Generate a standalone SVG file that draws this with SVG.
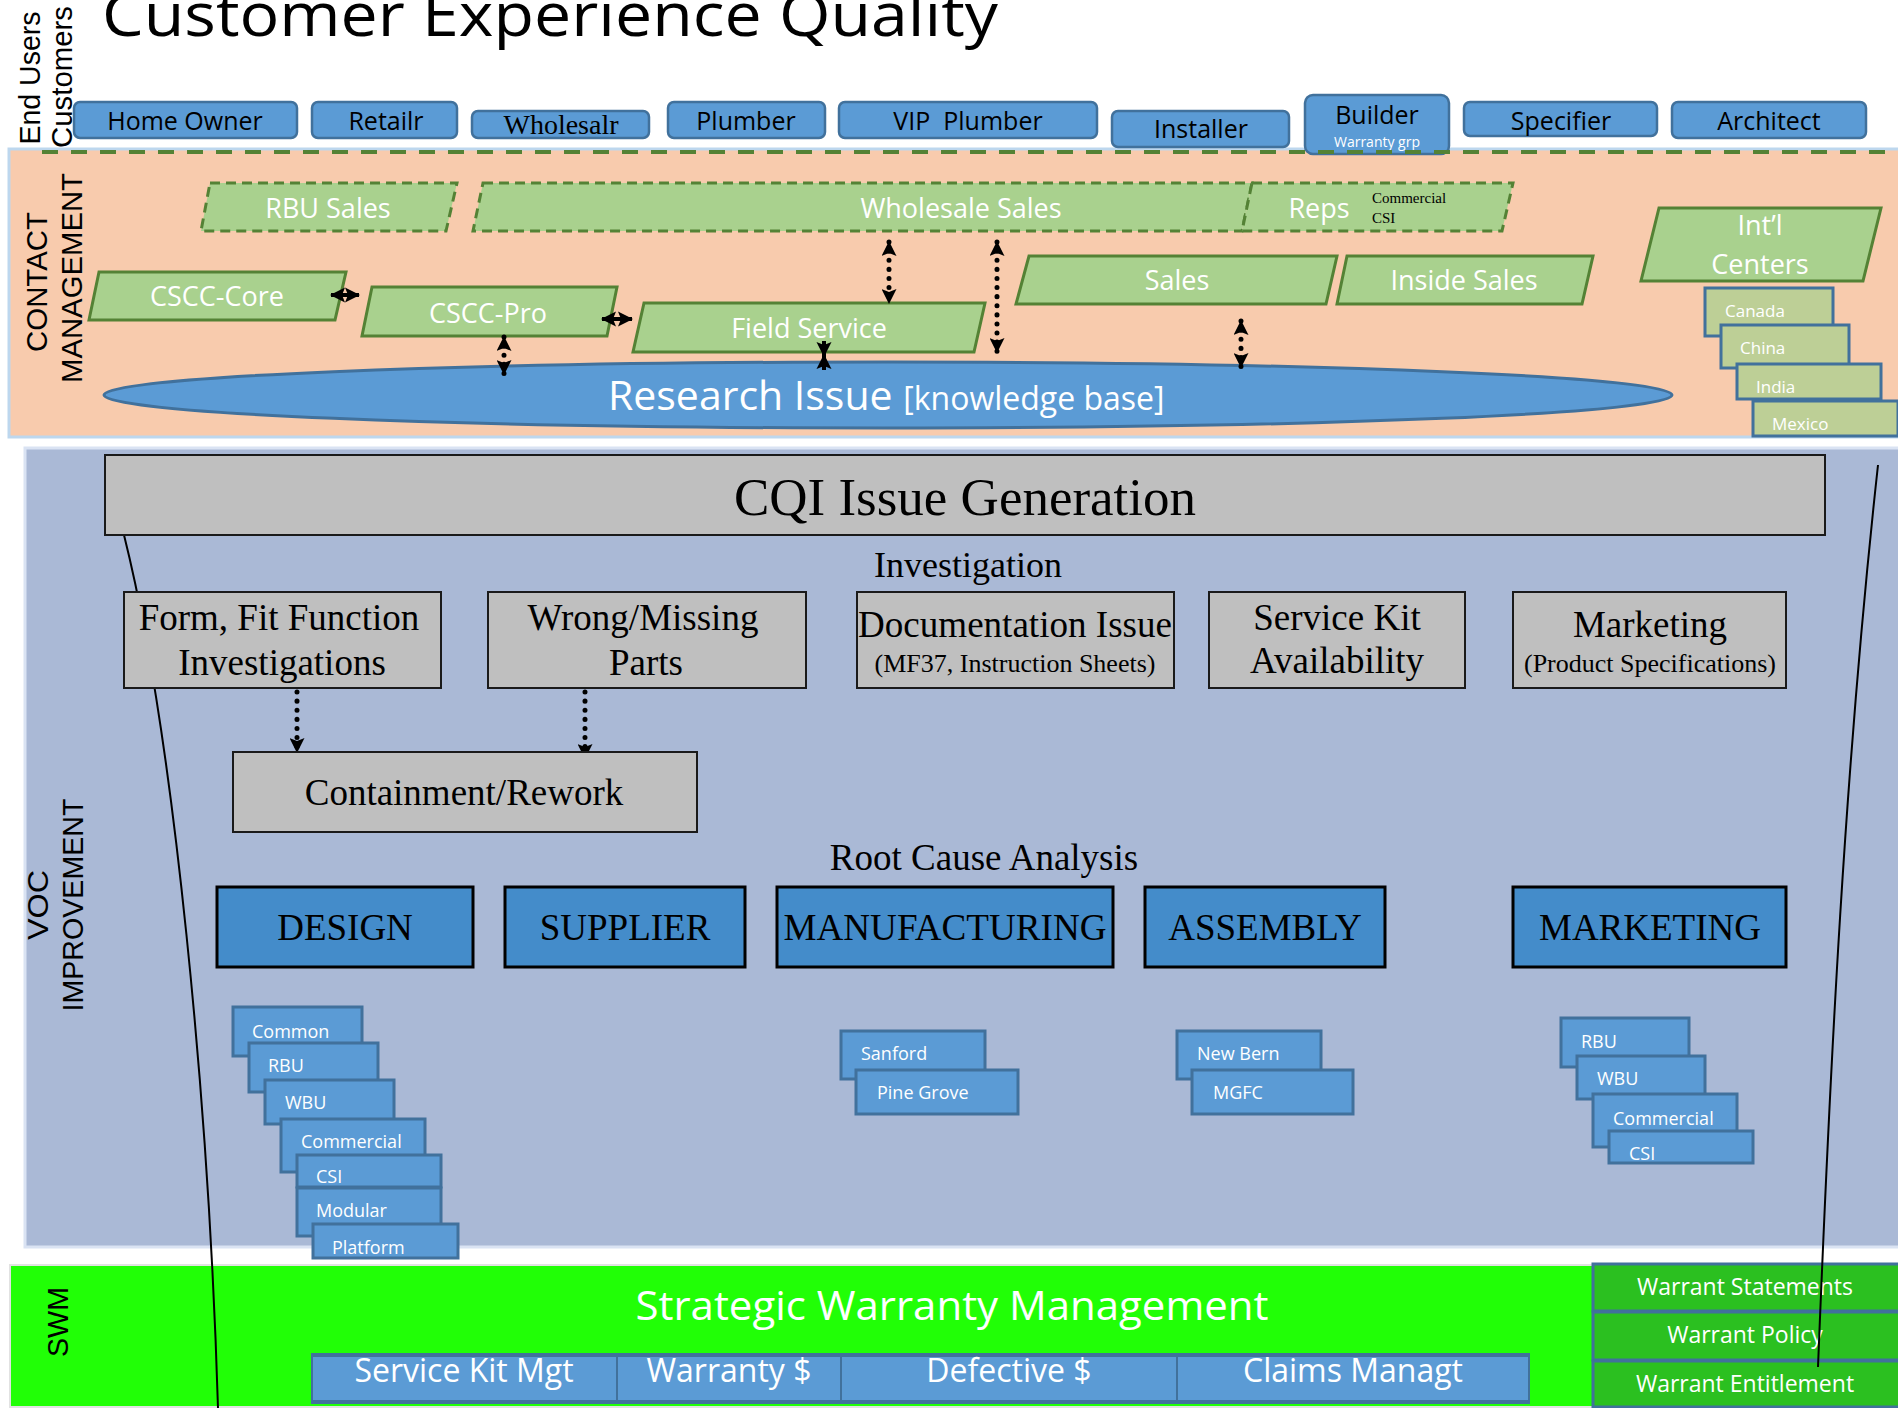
<svg xmlns="http://www.w3.org/2000/svg" width="1898" height="1408" viewBox="0 0 1898 1408">
<defs>
<style>
.sans{font-family:"Open Sans","Liberation Sans",sans-serif}
.serif{font-family:"Liberation Serif","Times New Roman",serif}
.arial{font-family:"Liberation Sans",Arial,sans-serif;font-size:30px;fill:#000}
.cust{fill:#5B9BD5;stroke:#41719C;stroke-width:2.5}
.ct{font-size:25px;fill:#000;text-anchor:middle}
.par{fill:#A9D18E;stroke:#548235;stroke-width:3}
.dpar{fill:#A9D18E;stroke:#548235;stroke-width:3;stroke-dasharray:10 6}
.pt{font-size:27px;fill:#fff;text-anchor:middle}
.ctry{fill:#BDCF96;stroke:#41719C;stroke-width:3}
.cyt{font-size:17px;fill:#fff}
.gray{fill:#BFBFBF;stroke:#1a1a1a;stroke-width:2}
.gt{font-size:37px;fill:#000;text-anchor:middle}
.gs{font-size:26px;fill:#000;text-anchor:middle}
.rc{fill:#448CCA;stroke:#000;stroke-width:3}
.rct{font-size:37px;fill:#000;text-anchor:middle}
.sub{fill:#5B9BD5;stroke:#41719C;stroke-width:3}
.st{font-size:18px;fill:#fff}
.war{fill:#2BC020;stroke:#41719C;stroke-width:3}
.wt{font-size:23px;fill:#fff;text-anchor:middle}
.bar{fill:#5B9BD5;stroke:#41719C;stroke-width:2}
.bt{font-size:32px;fill:#fff;text-anchor:middle}
.conn{fill:none;stroke:#000;stroke-width:4}
.dot{fill:none;stroke:#000;stroke-width:5;stroke-linecap:round;stroke-dasharray:0.1 9}
.curve{fill:none;stroke:#000;stroke-width:2}
</style>
<marker id="ah" viewBox="0 0 15 15" refX="14" refY="7.5" markerWidth="15" markerHeight="15" markerUnits="userSpaceOnUse" orient="auto-start-reverse">
<path d="M0,0 L15,7.5 L0,15 L3,7.5 z" fill="#000"/>
</marker>
<marker id="ahs" viewBox="0 0 15 15" refX="14" refY="7.5" markerWidth="15" markerHeight="17" markerUnits="userSpaceOnUse" orient="auto-start-reverse">
<path d="M0,0 L15,7.5 L0,15 L3,7.5 z" fill="#000"/>
</marker>
</defs>

<rect x="0" y="0" width="1898" height="1408" fill="#fff"/>

<!-- Title -->
<text id="title" class="sans" x="102" y="36" font-size="60" fill="#000" textLength="896" lengthAdjust="spacingAndGlyphs">Customer Experience Quality</text>

<!-- Side labels -->
<g id="label-end-users">
<text class="arial" transform="translate(40,78) rotate(-90)" text-anchor="middle" textLength="133" lengthAdjust="spacingAndGlyphs">End Users</text>
<text class="arial" transform="translate(72,77) rotate(-90)" text-anchor="middle" textLength="142" lengthAdjust="spacingAndGlyphs">Customers</text>
</g>

<!-- Contact management area -->
<g id="area-contact">
<rect x="9" y="149" width="1895" height="288" fill="#F8CBAD" stroke="#BDD7EE" stroke-width="3"/>
</g>

<!-- VOC area -->
<g id="area-voc">
<rect x="25" y="448" width="1880" height="799" fill="#AAB9D6" stroke="#DAE3F3" stroke-width="3"/>
</g>

<!-- SWM area -->
<g id="area-swm">
<rect x="10" y="1265" width="1590" height="142" fill="#21FF06" stroke="#E2E2E2" stroke-width="2"/>
</g>

<!-- Customers -->
<g id="cust-home-owner"><rect class="cust" x="74" y="102" width="223" height="36" rx="6"/><text class="sans ct" x="185" y="130">Home Owner</text></g>
<g id="cust-retailr"><rect class="cust" x="312" y="102" width="145" height="36" rx="6"/><text class="sans ct" x="386" y="130">Retailr</text></g>
<g id="cust-wholesalr"><rect class="cust" x="472" y="111" width="177" height="27" rx="6"/><text class="serif" x="561" y="134" font-size="28" text-anchor="middle" fill="#000">Wholesalr</text></g>
<g id="cust-plumber"><rect class="cust" x="668" y="102" width="157" height="36" rx="6"/><text class="sans ct" x="746" y="130">Plumber</text></g>
<g id="cust-vip-plumber"><rect class="cust" x="839" y="102" width="258" height="36" rx="6"/><text class="sans ct" x="968" y="130" xml:space="preserve">VIP  Plumber</text></g>
<g id="cust-installer"><rect class="cust" x="1112" y="111" width="177" height="36" rx="6"/><text class="sans ct" x="1201" y="138">Installer</text></g>
<g id="cust-builder"><rect class="cust" x="1305" y="95" width="144" height="59" rx="8"/><text class="sans ct" x="1377" y="124">Builder</text><text class="sans" x="1377" y="147" font-size="14" fill="#fff" text-anchor="middle">Warranty grp</text></g>
<g id="cust-specifier"><rect class="cust" x="1464" y="102" width="193" height="34" rx="6"/><text class="sans ct" x="1561" y="130">Specifier</text></g>
<g id="cust-architect"><rect class="cust" x="1672" y="102" width="194" height="36" rx="6"/><text class="sans ct" x="1769" y="130">Architect</text></g>

<line id="boundary-dash" x1="42" y1="152" x2="1898" y2="152" stroke="#548235" stroke-width="4" stroke-dasharray="16 13"/>

<g id="label-contact">
<text class="arial" transform="translate(47,282) rotate(-90)" text-anchor="middle" textLength="140" lengthAdjust="spacingAndGlyphs">CONTACT</text>
<text class="arial" transform="translate(82,278) rotate(-90)" text-anchor="middle" textLength="210" lengthAdjust="spacingAndGlyphs">MANAGEMENT</text>
</g>

<!-- Contact management nodes -->
<g id="rbu-sales"><polygon class="dpar" points="210,183 457,183 446,231 201,231"/><text class="sans pt" x="328" y="218">RBU Sales</text></g>
<g id="wholesale-sales"><polygon class="dpar" points="483,183 1252,183 1242,231 473,231"/><text class="sans pt" x="961" y="218">Wholesale Sales</text></g>
<g id="reps"><polygon class="dpar" points="1252,183 1513,183 1502,231 1242,231"/><text class="sans pt" x="1319" y="218">Reps</text>
<text class="serif" x="1372" y="203" font-size="15" fill="#000">Commercial</text><text class="serif" x="1372" y="223" font-size="15" fill="#000">CSI</text></g>
<g id="cscc-core"><polygon class="par" points="99,272 346,272 335,320 89,320"/><text class="sans pt" x="217" y="306">CSCC-Core</text></g>
<g id="cscc-pro"><polygon class="par" points="372,287 617,287 607,336 362,336"/><text class="sans pt" x="488" y="323">CSCC-Pro</text></g>
<g id="field-service"><polygon class="par" points="644,303 985,303 974,352 633,352"/><text class="sans pt" x="809" y="338">Field Service</text></g>
<g id="sales"><polygon class="par" points="1029,256 1337,256 1326,304 1016,304"/><text class="sans pt" x="1177" y="290">Sales</text></g>
<g id="inside-sales"><polygon class="par" points="1347,256 1593,256 1582,304 1337,304"/><text class="sans pt" x="1464" y="290">Inside Sales</text></g>
<g id="intl-centers"><polygon class="par" points="1659,208 1881,208 1863,281 1641,281"/><text class="sans pt" x="1760" y="235">Int’l</text><text class="sans pt" x="1760" y="274">Centers</text></g>
<g id="ctry-canada"><rect class="ctry" x="1705" y="288" width="128" height="48"/><text class="sans cyt" x="1725" y="317">Canada</text></g>
<g id="ctry-china"><rect class="ctry" x="1721" y="325" width="128" height="43"/><text class="sans cyt" x="1740" y="354">China</text></g>
<g id="ctry-india"><rect class="ctry" x="1737" y="364" width="144" height="35"/><text class="sans cyt" x="1756" y="393">India</text></g>
<g id="ctry-mexico"><rect class="ctry" x="1753" y="401" width="145" height="35"/><text class="sans cyt" x="1772" y="430">Mexico</text></g>
<g id="research-issue"><ellipse cx="888" cy="395" rx="784" ry="33" fill="#5B9BD5" stroke="#41719C" stroke-width="3"/>
<text class="sans" x="608" y="410" fill="#fff"><tspan font-size="41">Research Issue </tspan><tspan font-size="32">[knowledge base]</tspan></text></g>

<!-- SWM nodes -->
<g id="label-swm"><text class="arial" transform="translate(68,1322) rotate(-90)" text-anchor="middle" textLength="70" lengthAdjust="spacingAndGlyphs">SWM</text></g>
<text id="swm-title" class="sans" x="952" y="1320" font-size="40" fill="#fff" text-anchor="middle" textLength="633" lengthAdjust="spacingAndGlyphs">Strategic Warranty Management</text>
<g id="swm-bar">
<rect class="bar" x="312" y="1354" width="305" height="49"/>
<rect class="bar" x="617" y="1354" width="224" height="49"/>
<rect class="bar" x="841" y="1354" width="336" height="49"/>
<rect class="bar" x="1177" y="1354" width="352" height="49"/>
<line x1="312" y1="1355" x2="1529" y2="1355" stroke="#41719C" stroke-width="4"/>
<line x1="312" y1="1402" x2="1529" y2="1402" stroke="#41719C" stroke-width="4"/>
<text class="sans bt" x="464" y="1382">Service Kit Mgt</text>
<text class="sans bt" x="729" y="1382">Warranty $</text>
<text class="sans bt" x="1009" y="1382">Defective $</text>
<text class="sans bt" x="1353" y="1382">Claims Managt</text>
</g>
<g id="warrant-statements"><rect class="war" x="1593" y="1264" width="310" height="47"/><text class="sans wt" x="1745" y="1295">Warrant Statements</text></g>
<g id="warrant-policy"><rect class="war" x="1593" y="1312" width="310" height="48"/><text class="sans wt" x="1745" y="1343">Warrant Policy</text></g>
<g id="warrant-entitlement"><rect class="war" x="1593" y="1361" width="310" height="46"/><text class="sans wt" x="1745" y="1392">Warrant Entitlement</text></g>

<!-- Connectors -->
<g id="connectors">
<path class="curve" d="M124,535 C174,735 209,1108 218,1408"/>
<path class="curve" d="M1878,465 C1845,765 1830,1067 1818,1367"/>
<line class="conn" x1="331" y1="295" x2="359" y2="295" marker-start="url(#ahs)" marker-end="url(#ahs)" stroke-width="2"/>
<line class="conn" x1="602" y1="319" x2="632" y2="319" marker-start="url(#ahs)" marker-end="url(#ahs)" stroke-width="2"/>
<line class="dot" x1="504" y1="337" x2="504" y2="374" marker-start="url(#ah)" marker-end="url(#ah)"/>
<line class="conn" x1="824" y1="341" x2="824" y2="356" marker-end="url(#ahs)" stroke-width="2"/>
<line class="conn" x1="824" y1="370" x2="824" y2="355" marker-end="url(#ahs)" stroke-width="2"/>
<line class="dot" x1="889" y1="242" x2="889" y2="303" marker-start="url(#ah)" marker-end="url(#ah)"/>
<line class="dot" x1="997" y1="242" x2="997" y2="352" marker-start="url(#ah)" marker-end="url(#ah)"/>
<line class="dot" x1="1241" y1="321" x2="1241" y2="367" marker-start="url(#ah)" marker-end="url(#ah)"/>
<line class="dot" x1="297" y1="692" x2="297" y2="752" marker-end="url(#ah)"/>
<line class="dot" x1="585" y1="692" x2="585" y2="758" marker-end="url(#ah)"/>
</g>

<!-- VOC nodes -->
<g id="label-voc">
<text class="arial" transform="translate(48,905) rotate(-90)" text-anchor="middle" textLength="70" lengthAdjust="spacingAndGlyphs">VOC</text>
<text class="arial" transform="translate(83,905) rotate(-90)" text-anchor="middle" textLength="213" lengthAdjust="spacingAndGlyphs">IMPROVEMENT</text>
</g>
<g id="cqi"><rect class="gray" x="105" y="455" width="1720" height="80"/><text class="serif" x="965" y="515" font-size="53" fill="#000" text-anchor="middle">CQI Issue Generation</text></g>
<text id="investigation" class="serif" x="968" y="577" font-size="36" fill="#000" text-anchor="middle">Investigation</text>
<g id="inv-form-fit"><rect class="gray" x="124" y="592" width="317" height="96"/><text class="serif gt" x="279" y="630">Form, Fit Function</text><text class="serif gt" x="282" y="675">Investigations</text></g>
<g id="inv-wrong-missing"><rect class="gray" x="488" y="592" width="318" height="96"/><text class="serif gt" x="643" y="630">Wrong/Missing</text><text class="serif gt" x="646" y="675">Parts</text></g>
<g id="inv-documentation"><rect class="gray" x="857" y="592" width="317" height="96"/><text class="serif gt" x="1015" y="637" textLength="314" lengthAdjust="spacingAndGlyphs">Documentation Issue</text><text class="serif gs" x="1015" y="672">(MF37, Instruction Sheets)</text></g>
<g id="inv-service-kit"><rect class="gray" x="1209" y="592" width="256" height="96"/><text class="serif gt" x="1337" y="630">Service Kit</text><text class="serif gt" x="1337" y="673">Availability</text></g>
<g id="inv-marketing"><rect class="gray" x="1513" y="592" width="273" height="96"/><text class="serif gt" x="1650" y="637">Marketing</text><text class="serif gs" x="1650" y="672">(Product Specifications)</text></g>
<g id="containment"><rect class="gray" x="233" y="752" width="464" height="80"/><text class="serif gt" x="464" y="805">Containment/Rework</text></g>
<text id="root-cause" class="serif" x="984" y="870" font-size="37" fill="#000" text-anchor="middle">Root Cause Analysis</text>
<g id="rc-design"><rect class="rc" x="217" y="887" width="256" height="80"/><text class="serif rct" x="345" y="940">DESIGN</text></g>
<g id="rc-supplier"><rect class="rc" x="505" y="887" width="240" height="80"/><text class="serif rct" x="625" y="940">SUPPLIER</text></g>
<g id="rc-manufacturing"><rect class="rc" x="777" y="887" width="336" height="80"/><text class="serif rct" x="945" y="940" textLength="323" lengthAdjust="spacingAndGlyphs">MANUFACTURING</text></g>
<g id="rc-assembly"><rect class="rc" x="1145" y="887" width="240" height="80"/><text class="serif rct" x="1265" y="940">ASSEMBLY</text></g>
<g id="rc-marketing"><rect class="rc" x="1513" y="887" width="273" height="80"/><text class="serif rct" x="1650" y="940">MARKETING</text></g>

<g id="design-subs">
<g id="d-common"><rect class="sub" x="233" y="1007" width="129" height="49"/><text class="sans st" x="252" y="1038">Common</text></g>
<g id="d-rbu"><rect class="sub" x="249" y="1043" width="129" height="49"/><text class="sans st" x="268" y="1072">RBU</text></g>
<g id="d-wbu"><rect class="sub" x="265" y="1080" width="129" height="44"/><text class="sans st" x="285" y="1109">WBU</text></g>
<g id="d-commercial"><rect class="sub" x="281" y="1119" width="144" height="53"/><text class="sans st" x="301" y="1148">Commercial</text></g>
<g id="d-csi"><rect class="sub" x="297" y="1155" width="144" height="32"/><text class="sans st" x="316" y="1183">CSI</text></g>
<g id="d-modular"><rect class="sub" x="297" y="1188" width="144" height="48"/><text class="sans st" x="316" y="1217">Modular</text></g>
<g id="d-platform"><rect class="sub" x="313" y="1224" width="145" height="34"/><text class="sans st" x="332" y="1254">Platform</text></g>
</g>
<g id="mfg-subs">
<g id="m-sanford"><rect class="sub" x="841" y="1031" width="144" height="48"/><text class="sans st" x="861" y="1060">Sanford</text></g>
<g id="m-pine-grove"><rect class="sub" x="856" y="1070" width="162" height="44"/><text class="sans st" x="877" y="1099">Pine Grove</text></g>
</g>
<g id="asm-subs">
<g id="a-new-bern"><rect class="sub" x="1177" y="1031" width="144" height="48"/><text class="sans st" x="1197" y="1060">New Bern</text></g>
<g id="a-mgfc"><rect class="sub" x="1192" y="1070" width="161" height="44"/><text class="sans st" x="1213" y="1099">MGFC</text></g>
</g>
<g id="mkt-subs">
<g id="k-rbu"><rect class="sub" x="1561" y="1018" width="128" height="49"/><text class="sans st" x="1581" y="1048">RBU</text></g>
<g id="k-wbu"><rect class="sub" x="1577" y="1056" width="128" height="43"/><text class="sans st" x="1597" y="1085">WBU</text></g>
<g id="k-commercial"><rect class="sub" x="1593" y="1094" width="144" height="53"/><text class="sans st" x="1613" y="1125">Commercial</text></g>
<g id="k-csi"><rect class="sub" x="1609" y="1131" width="144" height="32"/><text class="sans st" x="1629" y="1160">CSI</text></g>
</g>
</svg>
